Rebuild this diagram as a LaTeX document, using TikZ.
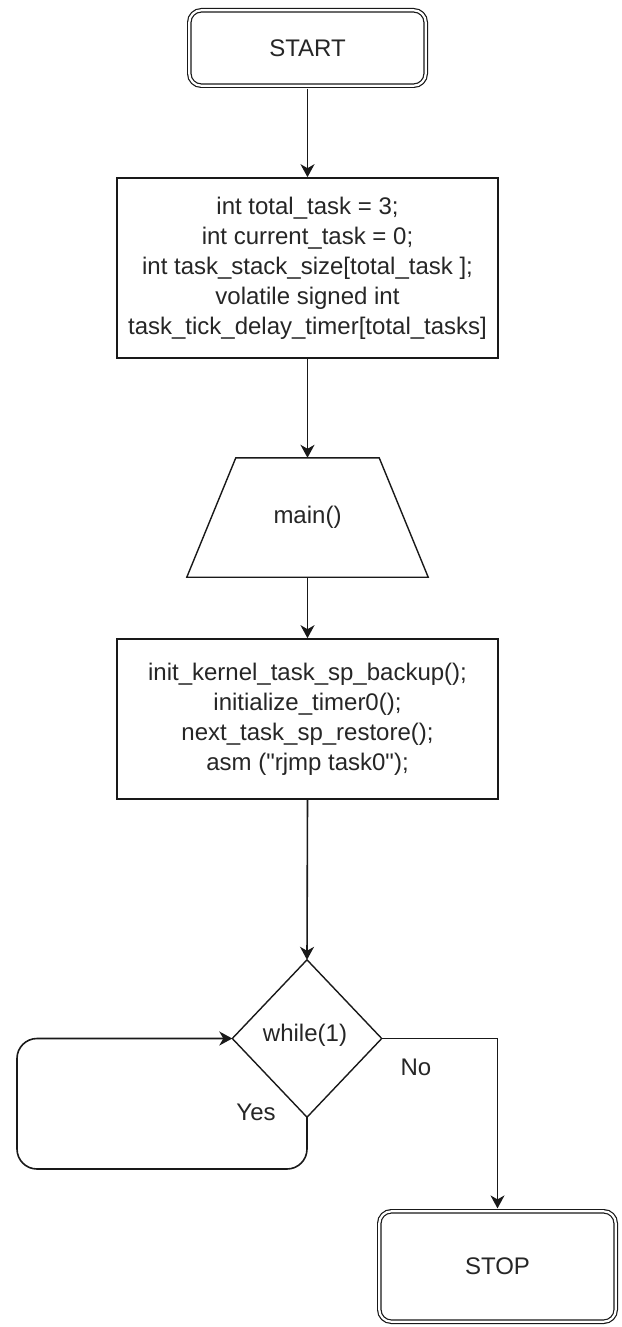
\documentclass[tikz,border=0pt]{standalone}
\usepackage{fontspec}
\setmainfont{Liberation Sans}[Ligatures=TeXOff]
\usetikzlibrary{arrows.meta}
\begin{document}
\begin{tikzpicture}[x=1pt,y=-1pt,
  every node/.style={font=\fontsize{24}{30}\selectfont, text=black!85, align=center, inner sep=0pt},
  term/.style={draw=black!90, double, double distance=2.2pt, line width=1.2pt, rounded corners=12pt, minimum width=236.4pt},
  procbox/.style={draw=black!90, line width=1.6pt, minimum width=381pt},
  flow/.style={draw=black!90, line width=1.6pt, -{Stealth[length=13pt,width=14pt,inset=4pt]}},
  shapeline/.style={draw=black!90, line width=1.4pt, line join=miter}
]
\useasboundingbox (0,0) rectangle (621,1327);
\fill[white] (0,0) rectangle (621,1327);

% START
\node[term, minimum height=75.4pt] (start) at (307.5,48) {START};

% variables box
\node[procbox, minimum height=180pt] (vars) at (307.5,268)
  {int total\_task = 3;\\
   int current\_task = 0;\\
   int task\_stack\_size[total\_task ];\\
   volatile signed int\\
   task\_tick\_delay\_timer[total\_tasks]};

% main() trapezoid
\node[minimum width=143pt, minimum height=119pt] (main) at (307.5,517.5) {main()};
\draw[shapeline] (main.north west) -- (main.north east)
  -- ([xshift=49pt]main.south east) -- ([xshift=-49pt]main.south west) -- cycle;

% init box
\node[procbox, minimum height=160pt] (init) at (307.5,719)
  {init\_kernel\_task\_sp\_backup();\\
   initialize\_timer0();\\
   next\_task\_sp\_restore();\\
   asm ("rjmp task0");};

% decision diamond
\node[minimum width=149pt, minimum height=157pt] (loop) at (307,1038.5) {};
\draw[shapeline] (loop.north) -- (loop.east) -- (loop.south) -- (loop.west) -- cycle;
\node (looptext) at (305,1035) {while(1)};

% STOP
\node[term, minimum height=110.4pt] (stop) at (497.5,1266.5) {STOP};

% labels
\node (no) at (416,1067) {No};
\node (yes) at (256,1112) {Yes};

% connectors
\coordinate (lb) at (17,1169);
\draw[flow] ([yshift=-2.3pt]start.south) -- (vars.north);
\draw[flow] (vars.south) -- (main.north);
\draw[flow] (main.south) -- (init.north);
\draw[flow] (init.south) -- (loop.north);
\draw[flow, rounded corners=20pt] (loop.south) |- (lb) |- (loop.west);
\draw[flow] (loop.east) -| ([yshift=2.3pt]stop.north);
\end{tikzpicture}
\end{document}
